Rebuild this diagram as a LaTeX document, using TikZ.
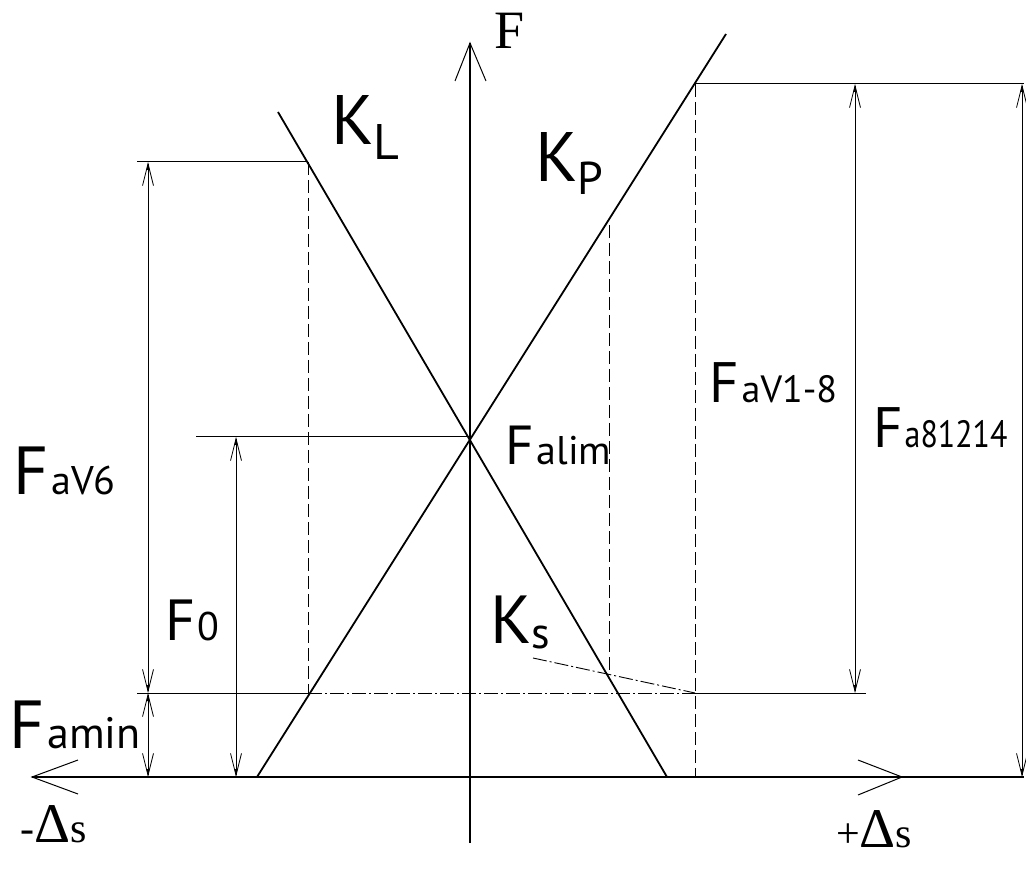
\documentclass[tikz,border=0pt]{standalone}
\usepackage{fontspec}
\setmainfont{Liberation Serif}
\newfontfamily\labf{PT Sans}
\usetikzlibrary{arrows.meta,calc}
\newcommand\fs[2]{{\fontsize{#1}{#1}\selectfont #2}}
\tikzset{
  axis/.style={line width=1.1pt},
  kline/.style={line width=1.8pt},
  thin/.style={line width=1pt},
  dim/.style={line width=0.9pt,
    {Straight Barb[length=22pt,width=11pt,line width=0.8pt]}-{Straight Barb[length=22pt,width=11pt,line width=0.8pt]},
    postaction={draw, line width=0.9pt, {Latex[length=8pt,width=3.5pt]}-{Latex[length=8pt,width=3.5pt]}}},
  dashv/.style={line width=0.9pt, dash pattern=on 13pt off 5pt},
  dashdot/.style={line width=0.9pt, dash pattern=on 14pt off 3pt on 2pt off 3pt},
  lab/.style={anchor=base west, inner sep=0pt, font=\labf},
  serif/.style={anchor=base west, inner sep=0pt},
}
\begin{document}
\begin{tikzpicture}[x=1pt,y=-1pt]
\useasboundingbox (0,0) rectangle (1026,874);
% key coordinates
\coordinate (O) at (470,777);
\coordinate (Ytop) at (470,43);
\coordinate (Ybot) at (470,843);
\coordinate (Xl) at (32,777);
\coordinate (Xr) at (1024,777);
\coordinate (Xarr) at (902,777);
\coordinate (KLa) at (278,112);
\coordinate (KLb) at (667,777);
\coordinate (KPa) at (257,777);
\coordinate (KPb) at (726,34);
\coordinate (C) at (470,437);
% axes
\draw[axis] (Xl) -- (Xr);
\draw[axis] (Ybot) -- (Ytop);
\draw[thin] ($(Xl)+(46,-17)$) -- (Xl) -- ($(Xl)+(46,17)$);
\draw[thin] ($(Xarr)+(-44,-17)$) -- (Xarr) -- ($(Xarr)+(-44,18)$);
\draw[thin] ($(Ytop)+(-15,38)$) -- (Ytop) -- ($(Ytop)+(16,38)$);
% characteristic lines
\draw[kline] (KLa) -- (KLb);
\draw[kline] (KPa) -- (KPb);
% horizontal reference lines
\coordinate (P162) at (308,162);
\coordinate (P84) at (695,84);
\coordinate (P225) at (609,225);
\coordinate (P693a) at (308,693);
\coordinate (P693b) at (695,693);
\draw[thin] (137,162) -- (P162);
\draw[thin] (196,437) -- (C);
\draw[thin] (P84) -- (1024,84);
\draw[thin] (137,693) -- (P693a);
\draw[dashdot] (P693a) -- (P693b);
\draw[thin] (P693b) -- (866,693);
% dashed verticals
\draw[dashv] (P162) -- (P693a);
\draw[dashv] (P225) -- (609,673);
\draw[dashv] (P84) -- (695,777);
% Ks dash-dot
\coordinate (Ks1) at (533,658);
\draw[dashdot] (Ks1) -- (P693b);
% dimension lines
\draw[dim] (148,162) -- (148,693);
\draw[dim] (148,693) -- (148,777);
\draw[dim] (236,437) -- (236,777);
\draw[dim] (855,84) -- (855,693);
\draw[dim] (1022,84) -- (1022,777);
% labels
\node[serif] (lF) at (494,49) {\fs{54}{F}};
\node[serif] (lmds) at (20,842) {\fs{42}{-}\fs{56}{Δ}\fs{42}{s}};
\node[serif] (lpds) at (836,847) {\fs{42}{+}\fs{56}{Δ}\fs{42}{s}};
\node[lab] (lKL) at (331,145) {\fs{70}{K}\raisebox{-15pt}{\fs{50}{L}}};
\node[lab] (lKP) at (535,182) {\fs{70}{K}\raisebox{-13pt}{\fs{46}{P}}};
\node[lab] (lKs) at (490,643) {\fs{68}{K}\raisebox{-5pt}{\fs{44}{s}}};
\node[lab] (lFaV6) at (13,495) {\fs{68}{F}\kern3pt\fs{40}{aV6}};
\node[lab] (lFamin) at (9,748) {\fs{68}{F}\kern3pt\fs{44}{amin}};
\node[lab] (lF0) at (165,640) {\fs{58}{F}\kern2pt\fs{40}{0}};
\node[lab] (lFalim) at (505,465) {\fs{55}{F}\kern3pt\fs{40}{alim}};
\node[lab] (lFaV18) at (709,403) {\fs{57}{F}\kern3pt\fs{38}{aV1-8}};
\node[lab] (lFa81214) at (873,448) {\fs{57}{F}\kern2pt\scalebox{0.84}[1]{\fs{38}{a81214}}};
\end{tikzpicture}
\end{document}
